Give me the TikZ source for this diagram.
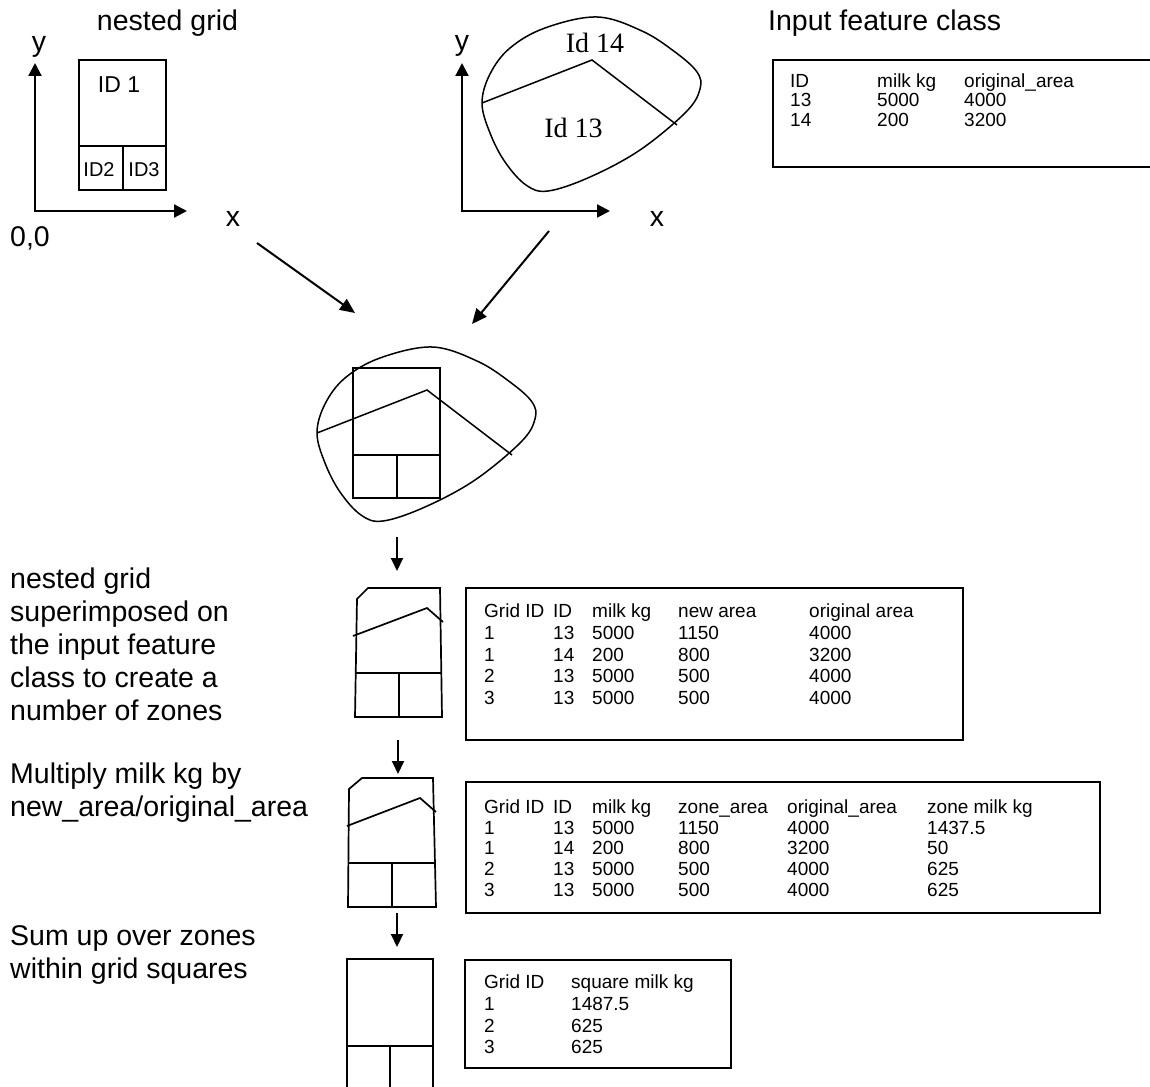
\documentclass[tikz,border=0pt]{standalone}
\usepackage{fontspec}
\setmainfont{Liberation Sans}
\newfontfamily\serifId{Liberation Serif}
\usetikzlibrary{arrows.meta}
\newcommand\trow[3]{%
  \foreach \cellx/\celltext [count=\c] in {#3}
    \node[tbl, name=#1-\c] at (\cellx,#2) {\celltext};}
\begin{document}
\begin{tikzpicture}[x=1pt,y=-1pt]
\tikzset{
 ln/.style={line width=1.7pt, line join=miter},
 thin/.style={line width=1.5pt, line join=miter},
 axis/.style={line width=2.2pt, line cap=rect, -{Triangle[length=13pt,width=13pt]}},
 arr/.style={line width=2pt, -{Triangle[length=15pt,width=13pt]}},
 varr/.style={line width=2pt, -{Triangle[length=13pt,width=12pt]}},
 lbl/.style={font=\fontsize{28.5}{33}\selectfont, inner sep=0pt, anchor=base west},
 lblc/.style={lbl, anchor=base},
 tbl/.style={font=\fontsize{19}{22}\selectfont, inner sep=0pt, anchor=base west},
 idl/.style={font=\serifId\fontsize{28}{30}\selectfont, inner sep=0pt, anchor=base},
 gid/.style={font=\fontsize{20}{22}\selectfont, inner sep=0pt, anchor=base},
}
\useasboundingbox (0,0) rectangle (1150,1086);
\clip (0,0) rectangle (1150,1086);
\fill[white] (0,0) rectangle (1150,1086);

% ---------- top left: nested grid ----------
\node[lblc] (tnested) at (167.5,31) {nested grid};
\coordinate (o1) at (35,211);
\coordinate (y1) at (35,63);
\coordinate (x1) at (187,211);
\draw[axis] (o1) -- (y1);
\draw[axis] (o1) -- (x1);
\node[lblc] (ly1) at (39,52) {y};
\node[lblc] (lx1) at (233,226) {x};
\node[lbl] (l00) at (10,246) {0,0};
\draw[ln] (79,60) rectangle (166,190);
\draw[ln] (79,146) -- (166,146);
\draw[ln] (123,146) -- (123,190);
\node[font=\fontsize{23}{25}\selectfont, inner sep=0pt, anchor=base] (id1) at (119,93) {ID 1};
\node[gid] (id2) at (99,176) {ID2};
\node[gid] (id3) at (144,176) {ID3};

% ---------- top middle: input polygons ----------
\coordinate (o2) at (462,211);
\coordinate (y2) at (462,63);
\coordinate (x2) at (610,211);
\draw[axis] (o2) -- (y2);
\draw[axis] (o2) -- (x2);
\node[lblc] (ly2) at (462,51) {y};
\node[lblc] (lx2) at (657,226) {x};
\newcommand\blobshape{%
  \draw[thin] plot[smooth cycle, tension=0.6] coordinates {
    (482,103) (490,74) (510,48) (545,28) (597,17) (642,31) (675,52)
    (697,72) (700,89) (686,112) (640,150) (590,177) (548,191) (526,185)
    (505,162) (490,133)};
  \draw[thin] (482,103) -- (592,60) -- (677,125);}
\blobshape
\node[idl] (id14) at (595,53) {Id 14};
\node[idl] (id13) at (573.5,138) {Id 13};

% ---------- top right: input feature class ----------
\node[lbl] (tinput) at (768,31) {Input feature class};
\draw[ln] (773,60) rectangle (1170,167);
\trow{ta}{88}{790/ID, 877/milk kg, 964/original\_area}
\trow{tb}{107}{790/13, 877/5000, 964/4000}
\trow{tc}{127}{790/14, 877/200, 964/3200}

% ---------- diagonal arrows ----------
\coordinate (d1s) at (257,243);
\coordinate (d1e) at (355,313);
\coordinate (d2s) at (549,231);
\coordinate (d2e) at (472,324);
\draw[arr] (d1s) -- (d1e);
\draw[arr] (d2s) -- (d2e);

% ---------- superimposed ----------
\begin{scope}[shift={(-165,330)}]
  \blobshape
\end{scope}
\draw[ln] (353,368) rectangle (440,498);
\draw[ln] (353,455) -- (440,455);
\draw[ln] (397,455) -- (397,498);

\coordinate (a1s) at (397,537);
\coordinate (a1e) at (397,571);
\draw[varr] (a1s) -- (a1e);

% ---------- zones 1 ----------
\draw[ln] (357,599) -- (368,588) -- (440,588) -- (442,717) -- (355,717) -- cycle;
\draw[ln] (355.5,673) -- (441.5,673);
\draw[ln] (399,673) -- (399,717);
\draw[ln] (353,636) -- (427,608) -- (443,622);

\draw[ln] (466,588) rectangle (963,740);
\trow{ua}{617}{484/Grid ID, 553/ID, 592/milk kg, 678/new area, 809/original area}
\trow{ub}{639}{484/1, 553/13, 592/5000, 678/1150, 809/4000}
\trow{uc}{661}{484/1, 553/14, 592/200, 678/800, 809/3200}
\trow{ud}{682}{484/2, 553/13, 592/5000, 678/500, 809/4000}
\trow{ue}{704}{484/3, 553/13, 592/5000, 678/500, 809/4000}

\coordinate (a2s) at (398,740);
\coordinate (a2e) at (398,774);
\draw[varr] (a2s) -- (a2e);

% ---------- zones 2 ----------
\draw[ln] (349,789) -- (362,778) -- (433,778) -- (436,907) -- (348,907) -- cycle;
\draw[ln] (348.2,863) -- (435,863);
\draw[ln] (392,863) -- (392,907);
\draw[ln] (347,826) -- (420,798) -- (436,812);

\draw[ln] (466,782) rectangle (1100,913);
\trow{va}{813}{484/Grid ID, 553/ID, 592/milk kg, 678/zone\_area, 787/original\_area, 927/zone milk kg}
\trow{vb}{834}{484/1, 553/13, 592/5000, 678/1150, 787/4000, 927/1437.5}
\trow{vc}{854}{484/1, 553/14, 592/200, 678/800, 787/3200, 927/50}
\trow{vd}{875}{484/2, 553/13, 592/5000, 678/500, 787/4000, 927/625}
\trow{ve}{896}{484/3, 553/13, 592/5000, 678/500, 787/4000, 927/625}

\coordinate (a3s) at (397,913);
\coordinate (a3e) at (397,947);
\draw[varr] (a3s) -- (a3e);

% ---------- sum ----------
\draw[ln] (347,1100) -- (347,959) -- (433,959) -- (433,1100);
\draw[ln] (347,1046) -- (433,1046);
\draw[ln] (390,1046) -- (390,1100);

\draw[ln] (465,960) rectangle (731,1068);
\trow{wa}{988}{484/Grid ID, 571/square milk kg}
\trow{wb}{1010}{484/1, 571/1487.5}
\trow{wc}{1032}{484/2, 571/625}
\trow{wd}{1053}{484/3, 571/625}

% ---------- left labels ----------
\node[lbl] (s1a) at (10,588) {nested grid};
\node[lbl] (s1b) at (10,621) {superimposed on};
\node[lbl] (s1c) at (10,654) {the input feature};
\node[lbl] (s1d) at (10,687) {class to create a};
\node[lbl] (s1e) at (10,720) {number of zones};
\node[lbl] (s2a) at (10,783) {Multiply milk kg by};
\node[lbl] (s2b) at (10,816) {new\_area/original\_area};
\node[lbl] (s3a) at (10,945) {Sum up over zones};
\node[lbl] (s3b) at (10,978) {within grid squares};
\end{tikzpicture}
\end{document}
